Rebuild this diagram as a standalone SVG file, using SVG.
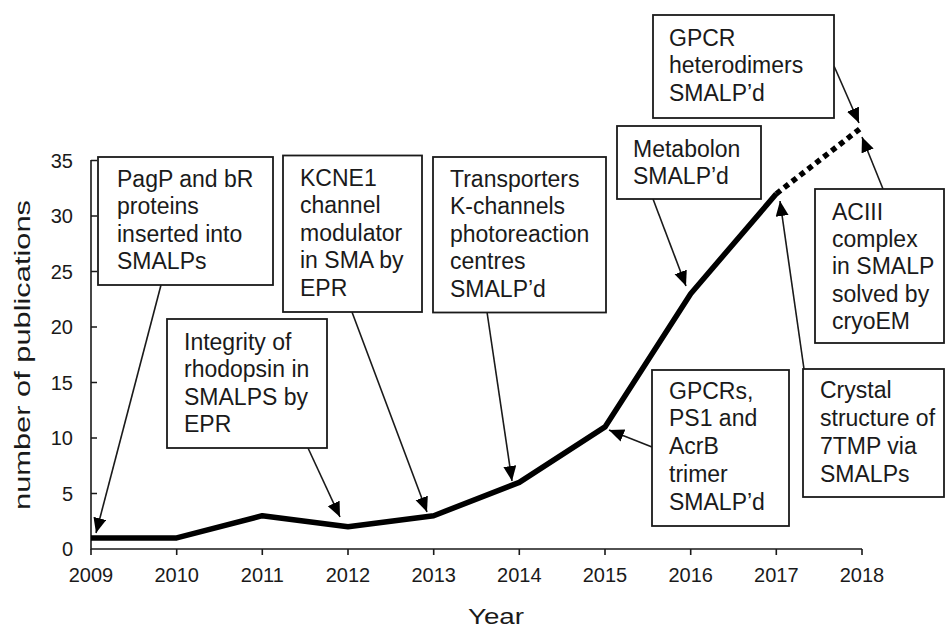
<svg xmlns="http://www.w3.org/2000/svg" width="946" height="628" viewBox="0 0 946 628">
  <style>
    text { font-family: "Liberation Sans", Arial, sans-serif; fill: #1a1a1a; }
    .ylab { font-size: 20px; text-anchor: end; }
    .xlab { font-size: 20px; text-anchor: middle; }
    .title { font-size: 22px; text-anchor: middle; }
    .note { font-size: 23px; }
    .box { fill: #ffffff; stroke: #1a1a1a; stroke-width: 1.8; }
    .axis { fill: none; stroke: #1a1a1a; stroke-width: 1.6; }
    .series { fill: none; stroke: #000000; stroke-width: 5.5; stroke-linejoin: round; }
    .proj { fill: none; stroke: #000000; stroke-width: 5.5; stroke-dasharray: 5.5 4.5; }
    .arrow { fill: none; stroke: #1a1a1a; stroke-width: 1.6; marker-end: url(#head); }
  </style>
  <defs>
    <marker id="head" markerUnits="userSpaceOnUse" markerWidth="16" markerHeight="14" refX="15" refY="6.5" orient="auto">
      <path d="M0,0 L15,6.5 L0,13 Z" fill="#000000"/>
    </marker>
  </defs>
  <rect width="946" height="628" fill="#ffffff"/>

  <!-- axes -->
  <g id="axes">
    <path class="axis" d="M91,160 V549 H862"/>
    <!-- y ticks (inside) -->
    <path class="axis" d="M91,160.5 h6 M91,216 h6 M91,271.5 h6 M91,327 h6 M91,382.5 h6 M91,438 h6 M91,493.5 h6"/>
    <!-- x ticks (outside) -->
    <path class="axis" d="M91,549 v6 M176.7,549 v6 M262.3,549 v6 M348,549 v6 M433.7,549 v6 M519.3,549 v6 M605,549 v6 M690.7,549 v6 M776.3,549 v6 M862,549 v6"/>
    <g class="ylab">
      <text x="73" y="168">35</text>
      <text x="73" y="223">30</text>
      <text x="73" y="279">25</text>
      <text x="73" y="334">20</text>
      <text x="73" y="390">15</text>
      <text x="73" y="445">10</text>
      <text x="73" y="501">5</text>
      <text x="73" y="556">0</text>
    </g>
    <g class="xlab">
      <text x="91" y="582">2009</text>
      <text x="176.7" y="582">2010</text>
      <text x="262.3" y="582">2011</text>
      <text x="348" y="582">2012</text>
      <text x="433.7" y="582">2013</text>
      <text x="519.3" y="582">2014</text>
      <text x="605" y="582">2015</text>
      <text x="690.7" y="582">2016</text>
      <text x="776.3" y="582">2017</text>
      <text x="862" y="582">2018</text>
    </g>
    <text class="title" x="496" y="624" textLength="56" lengthAdjust="spacingAndGlyphs">Year</text>
    <text class="title" transform="translate(30,355) rotate(-90)" textLength="310" lengthAdjust="spacingAndGlyphs">number of publications</text>
  </g>

  <!-- publication counts per year, with the 2018 projection dotted -->
  <g id="series">
    <polyline class="series" points="91,537.9 176.7,537.9 262.3,515.7 348,526.8 433.7,515.7 519.3,482.4 605,426.9 690.7,293.7 776.3,193.8"/>
    <line class="proj" x1="776.3" y1="193.8" x2="862" y2="127.2"/>
  </g>

  <!-- pointers from each note to its year -->
  <g id="connectors">
    <line class="arrow" x1="161" y1="285" x2="96" y2="533"/>
    <line class="arrow" x1="308" y1="448" x2="340" y2="517"/>
    <line class="arrow" x1="352" y1="312" x2="427" y2="512"/>
    <line class="arrow" x1="487" y1="312" x2="512" y2="481"/>
    <line class="arrow" x1="652" y1="447" x2="609" y2="430"/>
    <line class="arrow" x1="653" y1="199" x2="686" y2="286"/>
    <line class="arrow" x1="804" y1="369" x2="780" y2="201"/>
    <line class="arrow" x1="883" y1="189" x2="862" y2="137"/>
    <line class="arrow" x1="834" y1="66" x2="859" y2="123"/>
  </g>

  <g id="note-pagp">
    <rect class="box" x="98" y="157" width="175" height="128"/>
    <text class="note" x="117" y="187">PagP and bR</text>
    <text class="note" x="117" y="214.4">proteins</text>
    <text class="note" x="117" y="241.8">inserted into</text>
    <text class="note" x="117" y="269.2">SMALPs</text>
  </g>

  <g id="note-kcne1">
    <rect class="box" x="283" y="155.5" width="139" height="156.5"/>
    <text class="note" x="300" y="186">KCNE1</text>
    <text class="note" x="300" y="213.4">channel</text>
    <text class="note" x="300" y="240.8">modulator</text>
    <text class="note" x="300" y="268.2">in SMA by</text>
    <text class="note" x="300" y="295.6">EPR</text>
  </g>

  <g id="note-transporters">
    <rect class="box" x="433" y="157" width="173" height="155.5"/>
    <text class="note" x="450" y="187">Transporters</text>
    <text class="note" x="450" y="214.4">K-channels</text>
    <text class="note" x="450" y="241.8">photoreaction</text>
    <text class="note" x="450" y="269.2">centres</text>
    <text class="note" x="450" y="296.6">SMALP’d</text>
  </g>

  <g id="note-metabolon">
    <rect class="box" x="617" y="126" width="144" height="73"/>
    <text class="note" x="633" y="157">Metabolon</text>
    <text class="note" x="633" y="184">SMALP’d</text>
  </g>

  <g id="note-heterodimers">
    <rect class="box" x="653" y="15" width="181" height="103"/>
    <text class="note" x="669" y="46">GPCR</text>
    <text class="note" x="669" y="73.4">heterodimers</text>
    <text class="note" x="669" y="100.8">SMALP’d</text>
  </g>

  <g id="note-aciii">
    <rect class="box" x="815" y="189" width="129" height="154"/>
    <text class="note" x="832" y="219.5">ACIII</text>
    <text class="note" x="832" y="246.9">complex</text>
    <text class="note" x="832" y="274.3">in SMALP</text>
    <text class="note" x="832" y="301.7">solved by</text>
    <text class="note" x="832" y="329.1">cryoEM</text>
  </g>

  <g id="note-rhodopsin">
    <rect class="box" x="167" y="319" width="160" height="129"/>
    <text class="note" x="184" y="350">Integrity of</text>
    <text class="note" x="184" y="377.4">rhodopsin in</text>
    <text class="note" x="184" y="404.8">SMALPS by</text>
    <text class="note" x="184" y="432.2">EPR</text>
  </g>

  <g id="note-gpcrs">
    <rect class="box" x="652" y="370" width="137" height="156"/>
    <text class="note" x="669" y="398.5">GPCRs,</text>
    <text class="note" x="669" y="426.3">PS1 and</text>
    <text class="note" x="669" y="454.1">AcrB</text>
    <text class="note" x="669" y="481.9">trimer</text>
    <text class="note" x="669" y="509.7">SMALP’d</text>
  </g>

  <g id="note-crystal">
    <rect class="box" x="803" y="369" width="141" height="128"/>
    <text class="note" x="820" y="398">Crystal</text>
    <text class="note" x="820" y="426">structure of</text>
    <text class="note" x="820" y="454">7TMP via</text>
    <text class="note" x="820" y="482">SMALPs</text>
  </g>
</svg>
